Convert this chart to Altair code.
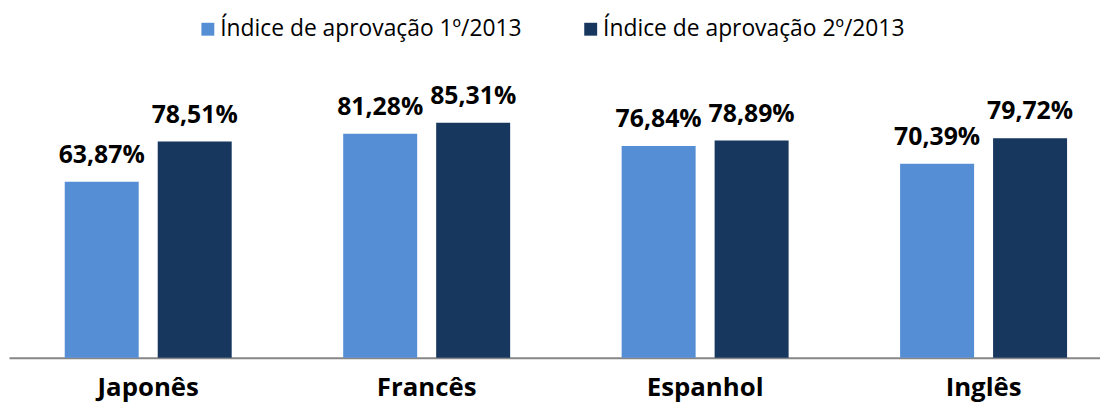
import altair as alt
import pandas as pd

categories = ["Japonês", "Francês", "Espanhol", "Inglês"]
series = ["Índice de aprovação 1º/2013", "Índice de aprovação 2º/2013"]
values_1 = [63.87, 81.28, 76.84, 70.39]
values_2 = [78.51, 85.31, 78.89, 79.72]
colors = ["#558ED5", "#17375E"]

rows = []
for c, v1, v2 in zip(categories, values_1, values_2):
    rows.append({"cat": c, "serie": series[0], "v": v1})
    rows.append({"cat": c, "serie": series[1], "v": v2})
df = pd.DataFrame(rows)
df["label"] = df["v"].map(lambda v: f"{v:.2f}".replace(".", ",") + "%")

FONT = "Open Sans"

x = alt.X(
    "cat:N",
    sort=categories,
    scale=alt.Scale(range=[0, 1123], paddingInner=0, paddingOuter=0),
    axis=alt.Axis(
        title=None, labelAngle=0, labelFont=FONT, labelFontWeight="bold",
        labelFontSize=26, labelColor="#000000", labelPadding=17, ticks=False,
        domainColor="#868686", domainWidth=2, grid=False,
    ),
)
xo = alt.XOffset("serie:N", sort=series,
                 scale=alt.Scale(paddingInner=0.2043, paddingOuter=0.5995))
y = alt.Y("v:Q", scale=alt.Scale(domain=[0, 90]), axis=None)

color = alt.Color(
    "serie:N", sort=series,
    scale=alt.Scale(domain=series, range=colors),
    legend=alt.Legend(
        orient="none", legendX=189, legendY=-93, direction="horizontal",
        title=None, symbolType="square", symbolSize=169, symbolStrokeWidth=0,
        labelFont=FONT, labelFontSize=23, labelColor="#000000",
        columnPadding=57, labelOffset=1, labelLimit=400,
    ),
)

bars = alt.Chart(df).mark_bar().encode(x=x, xOffset=xo, y=y, color=color)
text = alt.Chart(df).mark_text(
    font=FONT, fontWeight="bold", fontSize=25, color="#000000",
    baseline="alphabetic", dy=-19,
).encode(x=x, xOffset=xo, y=y, text="label:N")

chart = alt.layer(bars, text).properties(
    width=1100, height=250,
    autosize=alt.AutoSizeParams(type="none"),
    padding={"left": 1, "top": 101, "right": 0, "bottom": 49},
).configure_view(stroke=None)

chart.save("out.html", embed_options={"renderer": "svg", "actions": False})
